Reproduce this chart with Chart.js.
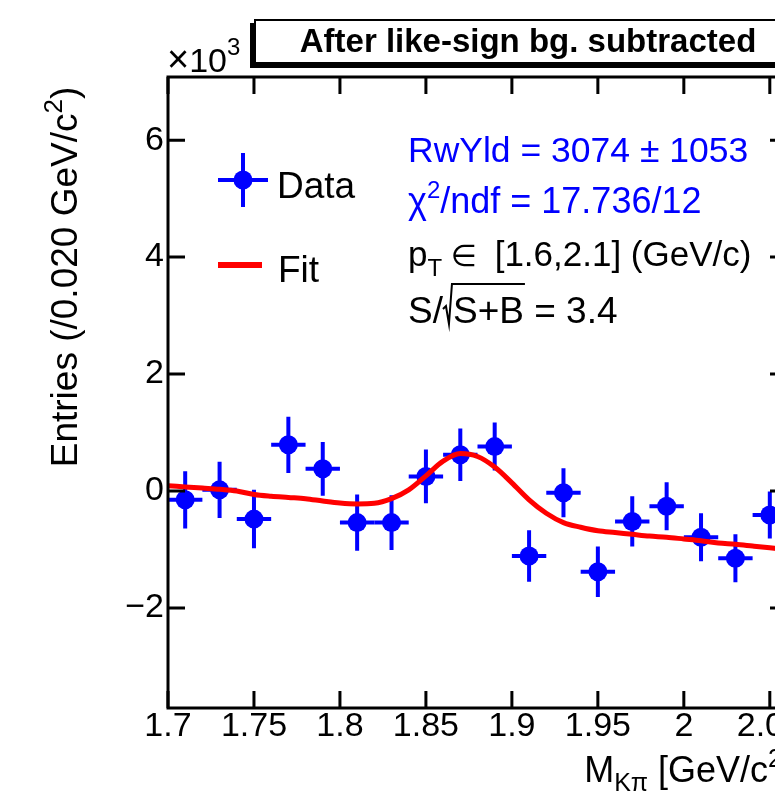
<!DOCTYPE html>
<html><head><meta charset="utf-8">
<script src="https://cdn.jsdelivr.net/npm/chart.js@4.4.1/dist/chart.umd.min.js"></script>
<style>
html,body{margin:0;padding:0;background:#fff;overflow:hidden;}
#wrap{width:775px;height:793px;overflow:hidden;position:relative;background:#fff;}
#c{position:absolute;left:0;top:0;}
</style></head><body>
<div id="wrap"><canvas id="c" width="840" height="793"></canvas></div>
<script>
// ---- data (y in units of 10^3 entries) ----
const massBins = [1.71,1.73,1.75,1.77,1.79,1.81,1.83,1.85,1.87,1.89,1.91,1.93,1.95,1.97,1.99,2.01,2.03,2.05];
const entries = [-0.15,0.02,-0.48,0.79,0.38,-0.54,-0.54,0.25,0.62,0.76,-1.11,-0.03,-1.38,-0.52,-0.26,-0.79,-1.15,-0.41];
const entryErrors = [0.49,0.48,0.50,0.48,0.46,0.48,0.47,0.46,0.45,0.41,0.44,0.42,0.43,0.43,0.41,0.41,0.41,0.40];
const binHalfWidth = 0.01;
const fitMass = [1.70,1.71,1.72,1.73,1.74,1.75,1.76,1.77,1.78,1.79,1.80,1.81,1.82,1.83,1.84,1.85,1.86,1.87,1.88,1.89,1.90,1.91,1.92,1.93,1.94,1.95,1.96,1.97,1.98,1.99,2.00,2.01,2.02,2.03,2.04,2.05,2.06];
const fitValues = [0.09,0.07,0.05,0.03,0.00,-0.06,-0.09,-0.11,-0.13,-0.17,-0.205,-0.22,-0.21,-0.13,0.02,0.26,0.51,0.64,0.59,0.41,0.14,-0.15,-0.38,-0.54,-0.62,-0.68,-0.71,-0.74,-0.77,-0.79,-0.82,-0.85,-0.89,-0.91,-0.94,-0.97,-1.00];
const xTickValues = [1.7,1.75,1.8,1.85,1.9,1.95,2.0,2.05];
const xTickLabels = ["1.7","1.75","1.8","1.85","1.9","1.95","2","2.05"];
const yTickValues = [-2,0,2,4,6];
const yTickLabels = ["\u22122","0","2","4","6"];

const BLUE = '#0000ff', RED = '#ff0000';
const FONT = '"Liberation Sans", "DejaVu Sans", Arial, sans-serif';
function fnt(size, bold){ return (bold ? 'bold ' : '') + size + 'px ' + FONT; }

function richText(ctx, parts, x, y, align){
  let total = 0;
  parts.forEach(p => { ctx.font = fnt(p.size, p.bold); p.w = ctx.measureText(p.t).width; total += p.w; });
  let cx = align === 'right' ? x - total : align === 'center' ? x - total/2 : x;
  parts.forEach(p => { ctx.font = fnt(p.size, p.bold); ctx.fillText(p.t, cx, y + (p.dy || 0)); p.x = cx; cx += p.w; });
  return total;
}

const errorBars = {
  id: 'errorBars',
  beforeDatasetsDraw(chart){
    const {ctx, scales:{x, y}} = chart;
    ctx.save();
    ctx.strokeStyle = BLUE; ctx.lineWidth = 4; ctx.lineCap = 'butt';
    massBins.forEach((m, i) => {
      const px = x.getPixelForValue(m), py = y.getPixelForValue(entries[i]);
      const yt = y.getPixelForValue(entries[i] + entryErrors[i]);
      const yb = y.getPixelForValue(entries[i] - entryErrors[i]);
      const xl = x.getPixelForValue(m - binHalfWidth), xr = x.getPixelForValue(m + binHalfWidth);
      ctx.beginPath();
      ctx.moveTo(px, yt); ctx.lineTo(px, yb);
      ctx.moveTo(xl, py); ctx.lineTo(xr, py);
      ctx.stroke();
    });
    ctx.restore();
  }
};

const decorations = {
  id: 'decorations',
  afterDraw(chart){
    const {ctx, chartArea:a, scales:{x, y}} = chart;
    ctx.save();
    // frame
    ctx.strokeStyle = '#000'; ctx.lineWidth = 3;
    ctx.strokeRect(a.left, a.top, a.right - a.left, a.bottom - a.top);
    // inward ticks
    const tl = 17;
    ctx.beginPath();
    xTickValues.forEach(v => {
      const px = x.getPixelForValue(v);
      ctx.moveTo(px, a.bottom); ctx.lineTo(px, a.bottom - tl);
      ctx.moveTo(px, a.top); ctx.lineTo(px, a.top + tl);
    });
    yTickValues.forEach(v => {
      const py = y.getPixelForValue(v);
      ctx.moveTo(a.left, py); ctx.lineTo(a.left + tl, py);
      ctx.moveTo(a.right, py); ctx.lineTo(a.right - tl, py);
    });
    ctx.stroke();

    ctx.textBaseline = 'alphabetic'; ctx.textAlign = 'left';
    ctx.fillStyle = '#000';
    // x10^3
    richText(ctx, [{t:'\u00d7', size:38}, {t:'10', size:34}, {t:'3', size:24, dy:-17}], 167, 72, 'left');

    // title box with shadow
    ctx.fillStyle = '#000';
    ctx.fillRect(250, 23, 560, 45);
    ctx.fillStyle = '#fff';
    ctx.fillRect(254, 19, 560, 45);
    ctx.lineWidth = 2; ctx.strokeStyle = '#000';
    ctx.strokeRect(255, 20, 560, 43);
    ctx.fillStyle = '#000';
    richText(ctx, [{t:'After like-sign bg. subtracted', size:33, bold:true}], 528, 52, 'center');

    // y axis title
    ctx.save();
    ctx.translate(77, 277);
    ctx.rotate(-Math.PI/2);
    richText(ctx, [{t:'Entries (/0.020 GeV/c', size:37}, {t:'2', size:26, dy:-15}, {t:')', size:37}], 0, 0, 'center');
    ctx.restore();

    // x axis title
    richText(ctx, [{t:'M', size:36}, {t:'K\u03c0', size:25, dy:9}, {t:' [GeV/c', size:36}, {t:'2', size:25, dy:-15}, {t:']', size:36}], 792, 782, 'right');

    // legend
    const lx = 243, ly = 180;
    ctx.strokeStyle = BLUE; ctx.lineWidth = 4;
    ctx.beginPath();
    ctx.moveTo(lx, ly - 27); ctx.lineTo(lx, ly + 27);
    ctx.moveTo(lx - 25, ly); ctx.lineTo(lx + 25, ly);
    ctx.stroke();
    ctx.fillStyle = BLUE;
    ctx.beginPath(); ctx.arc(lx, ly, 9.5, 0, Math.PI*2); ctx.fill();
    ctx.strokeStyle = RED; ctx.lineWidth = 6;
    ctx.beginPath(); ctx.moveTo(218, 265); ctx.lineTo(262, 265); ctx.stroke();
    ctx.fillStyle = '#000';
    richText(ctx, [{t:'Data', size:37}], 277, 198, 'left');
    richText(ctx, [{t:'Fit', size:37}], 278, 282, 'left');

    // fit info text
    const tx = 408;
    ctx.fillStyle = BLUE;
    richText(ctx, [{t:'RwYld = 3074 \u00b1 1053', size:35.5}], tx, 162, 'left');
    richText(ctx, [{t:'\u03c7', size:36}, {t:'2', size:24, dy:-15}, {t:'/ndf = 17.736/12', size:36}], tx, 213, 'left');
    ctx.fillStyle = '#000';
    richText(ctx, [{t:'p', size:35}, {t:'T', size:24, dy:10}, {t:' \u2208 ', size:30}, {t:' [1.6,2.1] (GeV/c)', size:35}], tx, 266, 'left');
    // S/sqrt(S+B)
    const w1 = richText(ctx, [{t:'S/', size:37}], tx, 323, 'left');
    const sx = tx + w1;
    const rootStart = sx + 10;
    const w2 = richText(ctx, [{t:'S+B', size:37}], rootStart, 323, 'left');
    ctx.strokeStyle = '#000'; ctx.lineWidth = 2;
    ctx.beginPath();
    ctx.moveTo(sx, 309); ctx.lineTo(sx + 3, 306); ctx.lineTo(sx + 6, 324); ctx.lineTo(sx + 9, 284); ctx.lineTo(rootStart + w2 + 1, 284);
    ctx.stroke();
    richText(ctx, [{t:' = 3.4', size:37}], rootStart + w2, 323, 'left');
    ctx.restore();
  }
};

const ctx = document.getElementById('c').getContext('2d');
new Chart(ctx, {
  type: 'scatter',
  data: {
    datasets: [
      {
        type: 'line', label: 'Fit', order: 0,
        data: fitMass.map((m, i) => ({x: m, y: fitValues[i]})),
        borderColor: RED, borderWidth: 5, pointRadius: 0, fill: false,
        cubicInterpolationMode: 'monotone'
      },
      {
        type: 'scatter', label: 'Data', order: 1,
        data: massBins.map((m, i) => ({x: m, y: entries[i]})),
        pointRadius: 9.5, pointBackgroundColor: BLUE, pointBorderWidth: 0, borderColor: BLUE
      }
    ]
  },
  options: {
    responsive: false, animation: false, devicePixelRatio: 1,
    layout: { padding: { left: 0, right: 53, top: 77, bottom: 0 } },
    plugins: { legend: {display: false}, tooltip: {enabled: false}, title: {display: false} },
    scales: {
      x: {
        type: 'linear', min: 1.7, max: 2.06, position: 'bottom',
        grid: {display: false, drawTicks: false}, border: {display: false},
        afterBuildTicks: s => { s.ticks = xTickValues.map(v => ({value: v})); },
        afterFit: s => { s.height = 85; },
        ticks: {
          autoSkip: false, maxRotation: 0, padding: 2, color: '#000',
          font: {family: FONT, size: 34, lineHeight: 1},
          callback: (v) => { const i = xTickValues.findIndex(t => Math.abs(t - v) < 1e-9); return i >= 0 ? xTickLabels[i] : ''; }
        }
      },
      y: {
        type: 'linear', min: -3.71, max: 7.08,
        grid: {display: false, drawTicks: false}, border: {display: false},
        afterBuildTicks: s => { s.ticks = yTickValues.map(v => ({value: v})); },
        afterFit: s => { s.width = 168; },
        ticks: {
          padding: 4, color: '#000',
          font: {family: FONT, size: 34, lineHeight: 1},
          callback: (v) => { const i = yTickValues.indexOf(v); return i >= 0 ? yTickLabels[i] : ''; }
        }
      }
    }
  },
  plugins: [errorBars, decorations]
});
</script>
</body></html>
